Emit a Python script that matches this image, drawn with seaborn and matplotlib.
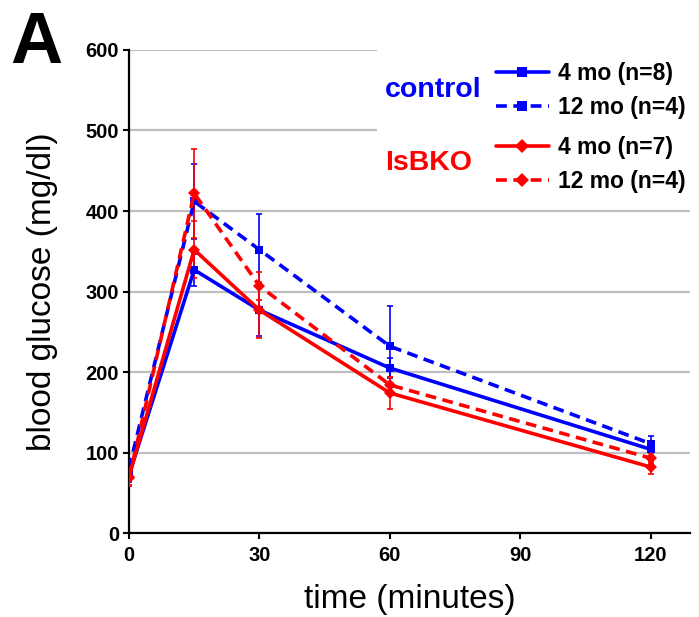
import numpy as np
import pandas as pd
import seaborn as sns
import matplotlib.pyplot as plt
from matplotlib.lines import Line2D
from matplotlib.patches import Rectangle

#data (mean and error bar half-width)
times = [0, 15, 30, 60, 120]
series = ['ctrl 4 mo', 'ctrl 12 mo', 'ko 4 mo', 'ko 12 mo']
labels = ['4 mo (n=8)', '12 mo (n=4)', '4 mo (n=7)', '12 mo (n=4)']
ctrl_4mo = [72, 327, 277, 205, 104]
ctrl_4mo_err = [8, 20, 32, 12, 8]
ctrl_12mo = [80, 412, 352, 232, 111]
ctrl_12mo_err = [10, 47, 44, 50, 9]
ko_4mo = [70, 352, 277, 174, 82]
ko_4mo_err = [12, 35, 35, 20, 8]
ko_12mo = [68, 422, 307, 184, 93]
ko_12mo_err = [8, 55, 17, 10, 6]

means = [ctrl_4mo, ctrl_12mo, ko_4mo, ko_12mo]
errs = [ctrl_4mo_err, ctrl_12mo_err, ko_4mo_err, ko_12mo_err]

df = pd.DataFrame({
    'time': times * 4,
    'glucose': sum(means, []),
    'series': np.repeat(series, len(times)),
})

blue, red = '#0000ff', '#ff0000'
colors = {'ctrl 4 mo': blue, 'ctrl 12 mo': blue, 'ko 4 mo': red, 'ko 12 mo': red}
markers = {'ctrl 4 mo': 's', 'ctrl 12 mo': 's', 'ko 4 mo': 'D', 'ko 12 mo': 'D'}
dashes = {'ctrl 4 mo': '', 'ctrl 12 mo': (3, 1.8), 'ko 4 mo': '', 'ko 12 mo': (3, 1.8)}

sns.set_style('white')
plt.rcParams['font.family'] = ['Liberation Sans', 'DejaVu Sans']
plt.rcParams['text.color'] = 'black'
plt.rcParams['xtick.color'] = 'black'
plt.rcParams['ytick.color'] = 'black'
plt.rcParams['axes.labelcolor'] = 'black'

fig = plt.figure(figsize=(6.99, 6.17), dpi=100)
ax = fig.add_axes([0.1845, 0.136, 0.8025, 0.783])

#error bars
for s, m, e in zip(series, means, errs):
    ax.errorbar(times, m, yerr=e, fmt='none', ecolor=colors[s], elinewidth=1.2,
                capsize=2.5, capthick=1.2, zorder=3)

sns.lineplot(data=df, x='time', y='glucose', hue='series', style='series',
             palette=colors, markers=markers, dashes=dashes, hue_order=series,
             linewidth=2.6, markersize=6, markeredgewidth=0, legend=False,
             errorbar=None, ax=ax, zorder=4)

ax.set_xlim(0, 129)
ax.set_ylim(0, 600)
ax.set_xticks([0, 30, 60, 90, 120])
ax.set_yticks(range(0, 601, 100))
ax.yaxis.grid(True, color='#bfbfbf', linewidth=1.6)
ax.set_axisbelow(True)
for side in ['top', 'right']:
    ax.spines[side].set_visible(False)
for side in ['left', 'bottom']:
    ax.spines[side].set_linewidth(1.6)
    ax.spines[side].set_color('black')
ax.tick_params(direction='out', length=4, width=1.5, labelsize=14.5,
               bottom=True, left=True)
ax.tick_params(axis='x', pad=5)
ax.tick_params(axis='y', pad=3)
for lab in ax.get_xticklabels() + ax.get_yticklabels():
    lab.set_fontweight('bold')
ax.set_xlabel('time (minutes)', fontsize=24, labelpad=14)
ax.set_ylabel('blood glucose (mg/dl)', fontsize=24, labelpad=20)

#white box behind the legend
ax.add_patch(Rectangle((57, 425), 80, 200, facecolor='white', edgecolor='none',
                       zorder=2, clip_on=False))

#legends
def handle(s):
    return Line2D([], [], color=colors[s], marker=markers[s], markersize=7,
                  markeredgewidth=0, linewidth=2.6,
                  linestyle='-' if dashes[s] == '' else (0, dashes[s]))

leg_kw = dict(frameon=False, handlelength=2.3, handletextpad=0.4,
              labelspacing=0.5, borderpad=0, borderaxespad=0,
              prop={'weight': 'bold', 'size': 16.5})
leg1 = fig.legend([handle(s) for s in series[:2]], labels[:2], loc='upper left',
                  bbox_to_anchor=(496 / 699, 1 - 62 / 617), **leg_kw)
leg2 = fig.legend([handle(s) for s in series[2:]], labels[2:], loc='upper left',
                  bbox_to_anchor=(496 / 699, 1 - 136 / 617), **leg_kw)

fig.text(385 / 699, 1 - 90 / 617, 'control', color=blue, fontsize=20.5,
         fontweight='bold', va='center', ha='left')
fig.text(385 / 699, 1 - 163 / 617, 'IsBKO', color=red, fontsize=20.5,
         fontweight='bold', va='center', ha='left')
fig.text(10 / 699, 1 - 63 / 617, 'A', fontsize=52, fontweight='bold',
         va='baseline', ha='left')

fig.savefig('out.png', dpi=100)
